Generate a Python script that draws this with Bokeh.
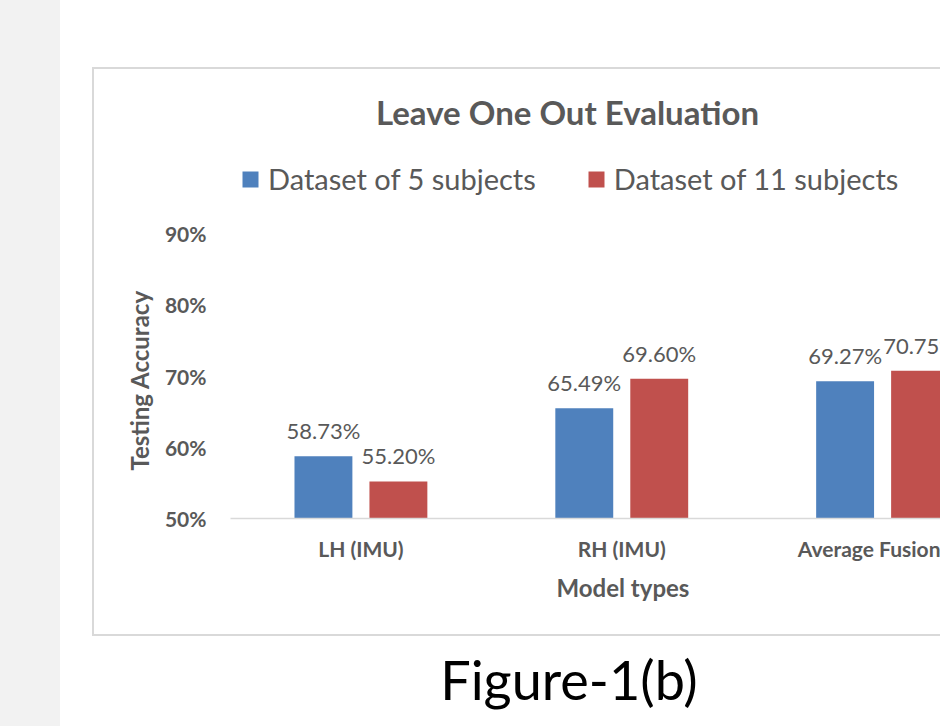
from bokeh.plotting import figure
from bokeh.layouts import row, column
from bokeh.models import (ColumnDataSource, Range1d, FixedTicker, PrintfTickFormatter,
                          LabelSet, Label, Legend, LegendItem, Title, Div, Spacer)
from bokeh.core.properties import value
from bokeh.embed import file_html
from bokeh.resources import INLINE

# Leave-one-out testing accuracy (%) per model type
categories = ["LH (IMU)", "RH (IMU)", "Average Fusion"]
series_names = ["Dataset of 5 subjects", "Dataset of 11 subjects"]
acc_5_subjects = [58.73, 65.49, 69.27]
acc_11_subjects = [55.20, 69.60, 70.75]
y_ticks = [50, 60, 70, 80, 90]

BLUE = "#4F81BD"
RED = "#C0504D"
TEXT = "#595959"
EDGE = "#D9D9D9"
FONT = "Lato"

# the plot area reaches up to the top of the chart box so that the title
# and the legend can sit inside it; ticks stop at 90 %
FIG_W, FIG_H = 846, 565
BORDER_LEFT, BORDER_BOTTOM = 136, 116
PX_PER_PCT = 7.125
y_top = 50 + (FIG_H - BORDER_BOTTOM) / PX_PER_PCT

p = figure(width=FIG_W, height=FIG_H, output_backend="svg", toolbar_location=None, title=None,
           x_range=Range1d(-0.5, 2.222), y_range=Range1d(50, y_top),
           min_border_left=BORDER_LEFT, min_border_right=0,
           min_border_top=0, min_border_bottom=BORDER_BOTTOM, margin=0)
p.background_fill_color = "white"
p.border_fill_color = "white"
p.outline_line_color = None
p.xgrid.visible = False
p.ygrid.visible = False

idx = list(range(len(categories)))
offset = 0.1437
bar_w = 0.222
src5 = ColumnDataSource(dict(x=[i - offset for i in idx], top=acc_5_subjects,
                             lbl=[f"{v:.2f}%" for v in acc_5_subjects]))
src11 = ColumnDataSource(dict(x=[i + offset for i in idx], top=acc_11_subjects,
                              lbl=[f"{v:.2f}%" for v in acc_11_subjects]))

r5 = p.vbar(x="x", top="top", bottom=50, width=bar_w, source=src5,
            fill_color=BLUE, line_color=None)
r11 = p.vbar(x="x", top="top", bottom=50, width=bar_w, source=src11,
             fill_color=RED, line_color=None)

for src in (src5, src11):
    p.add_layout(LabelSet(x="x", y="top", text="lbl", source=src, text_align="center",
                          text_baseline="bottom", y_offset=12, text_font=value(FONT),
                          text_font_size="22px", text_color=TEXT))

# x axis
xa = p.xaxis[0]
xa.ticker = FixedTicker(ticks=idx)
xa.major_label_overrides = {i: c for i, c in zip(idx, categories)}
xa.major_tick_line_color = None
xa.minor_tick_line_color = None
xa.axis_line_color = EDGE
xa.axis_line_width = 1.5
xa.major_label_text_font = FONT
xa.major_label_text_font_style = "bold"
xa.major_label_text_font_size = "21px"
xa.major_label_text_color = TEXT
xa.major_label_standoff = 11

# y axis
ya = p.yaxis[0]
ya.ticker = FixedTicker(ticks=y_ticks)
ya.formatter = PrintfTickFormatter(format="%d%%")
ya.axis_line_color = None
ya.major_tick_line_color = None
ya.minor_tick_line_color = None
ya.major_label_text_font = FONT
ya.major_label_text_font_style = "bold"
ya.major_label_text_font_size = "21px"
ya.major_label_text_color = TEXT
ya.major_label_standoff = 18

# y axis title, next to the 50-90 % tick range
p.add_layout(Title(text="Testing Accuracy", align="left", offset=48, standoff=16,
                   text_font=FONT, text_font_style="bold", text_font_size="24px",
                   text_color=TEXT), "left")

# x axis title, below the category labels
p.add_layout(Title(text="Model types", align="left", offset=326, standoff=14,
                   text_font=FONT, text_font_style="bold", text_font_size="24px",
                   text_color=TEXT), "below")

# chart title
p.add_layout(Label(x=337, y=407, x_units="screen", y_units="screen",
                   text="Leave One Out Evaluation", text_align="center",
                   text_baseline="middle", text_font=FONT, text_font_style="bold",
                   text_font_size="33px", text_color=TEXT))

# legend
legend = Legend(items=[LegendItem(label=series_names[0], renderers=[r5]),
                       LegendItem(label=series_names[1], renderers=[r11])],
                location=(10, 322), orientation="horizontal",
                label_text_font=FONT, label_text_font_size="29px", label_text_color=TEXT,
                glyph_width=20, glyph_height=20, label_standoff=8, spacing=50,
                padding=0, margin=0, border_line_color=None, background_fill_alpha=0)
p.add_layout(legend)

# page strip, chart box lines and caption
strip = Div(width=60, height=726, margin=0, styles={"background-color": "#F2F2F2"})
gap = Spacer(width=32, height=726, margin=0)
top_line = Div(width=848, height=2, margin=0, styles={"background-color": EDGE})
left_line = Div(width=2, height=FIG_H, margin=0, styles={"background-color": EDGE})
bottom_line = Div(width=848, height=2, margin=0, styles={"background-color": EDGE})
caption = Div(text="Figure-1(b)", width=300, height=88, margin=0,
              styles={"font-family": FONT, "font-size": "54px", "color": "black",
                      "text-align": "center", "line-height": "54px", "padding-top": "17px"})

chart = column(Spacer(width=848, height=67, margin=0), top_line,
               row(left_line, p, spacing=0), bottom_line,
               row(Spacer(width=327, height=88, margin=0), caption, spacing=0),
               spacing=0)
page = row(strip, gap, chart, spacing=0)

open("out.html", "w").write(file_html(page, INLINE))
